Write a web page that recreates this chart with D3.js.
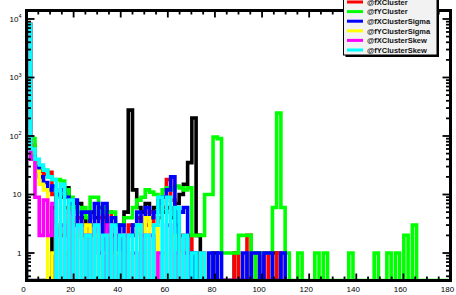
<!DOCTYPE html>
<html>
<head>
<meta charset="utf-8">
<script src="https://cdn.jsdelivr.net/npm/d3@7"></script>
<style>
  html, body { margin: 0; padding: 0; background: #fff; }
  svg { display: block; font-family: "Liberation Sans", Arial, sans-serif; }
  .hist { fill: none; stroke-linejoin: miter; stroke-linecap: butt; }
  .lbl { font-size: 8px; fill: #000; }
  .leg text { font-size: 7.5px; font-weight: bold; fill: #111; }
</style>
</head>
<body>
<div id="chart"></div>
<script>
// histogram: 100 bins of width 1.8 between 0 and 180
var binWidth = 1.8;

var blackCounts = [0,0,0,0,0,0,6,10,9,13,5,7,7,4,3,5,4,6,4,3,3,3,3,5,277,12,6,5,7,5,6,8,5,6,4,7,10,15,35,203,2,0,0,0,1,0,0,0,0,1,0,0,0,0,1,0,0,0,1];
var xClusterCounts = [8000,70,30,25,22,24,10,3,2,6,5,3,4,2,3,2,3,4,2,5,2,1,2,1,3,2,4,2,3,5,3,4,6,18,8,3,2,1,2,0,0,1,0,0,0,0,0,0,0,1,0,0,2,0,0,0,1,0,0,1];
var yClusterCounts = [8000,90,35,28,26,20,18,18,17,12,9,6,5,6,4,9,9,5,6,5,5,3,3,4,4,6,8,9,12,11,10,9,12,13,12,14,13,12,13,2,2,2,10,10,96,90,1,1,1,1,2,2,2,0,1,1,1,1,6,247,6,1,0,0,1,0,0,0,1,0,1,0,0,0,0,0,1,0,0,0,0,0,1,0,0,1,0,1,0,2,0,3,0,0,0,0,0,0,0,0];
var xSigmaCounts = [8000,45,30,20,16,12,14,10,12,9,7,8,3,5,5,3,7,0,7,0,4,0,3,0,2,3,5,0,6,4,5,7,9,12,20,0,5,6,0,1,0,0,0,1,0,1,0,0,0,0,0,1,0,1,1,0,1,1,0,0,1];
var ySigmaCounts = [8000,40,25,15,12,0,1,3,0,1,4,0,2,0,3,0,2,0,1,2,0,1,0,2,0,1,3,0,4,0,3,0,1,0,2,0,1];
var xSkewCounts = [8000,40,9,2,8,2,7,0,3,0,5,0,3,0,2,0,3,1,0,3,0,2,0,2,0,1,0,2,0,2,0,1,0,3,0,1,0,1];
var ySkewCounts = [8000,60,40,32,26,20,18,0,15,0,8,0,3,0,2,0,3,0,2,0,3,0,2,0,2,0,3,0,2,0,3,9,0,9,0,6,0,2,0,1,0,1];

var seriesNames = ["@fXCluster","@fYCluster","@fXClusterSigma","@fYClusterSigma","@fXClusterSkew","@fYClusterSkew"];
var seriesColors = ["#ff0000","#00ff00","#0000ff","#ffff00","#ff00ff","#00ffff"];
var seriesCounts = [xClusterCounts, yClusterCounts, xSigmaCounts, ySigmaCounts, xSkewCounts, ySkewCounts];

var xTicks = [0,20,40,60,80,100,120,140,160,180];
var yTicks = [1,10,100,1000,10000];

var width = 456, height = 295;
var L = 26.5, R = 450.5, T = 10.5, B = 280.5;

var svg = d3.select("#chart").append("svg")
  .attr("width", width).attr("height", height);

var x = d3.scaleLinear().domain([0, 180]).range([L, R]);
var y = d3.scaleLog().domain([Math.pow(10, -0.47), Math.pow(10, 4.145)]).range([B, T]);

svg.append("defs").append("clipPath").attr("id", "frame")
  .append("rect").attr("x", L).attr("y", T).attr("width", R - L).attr("height", B - T);

// ROOT style step line, zero bins drop to the bottom of the frame
function histPath(counts) {
  var pts = [[x(0), B]];
  counts.forEach(function(c, i) {
    var yy = c > 0 ? y(c) : B;
    pts.push([x(i * binWidth), yy]);
    pts.push([x((i + 1) * binWidth), yy]);
  });
  pts.push([x(counts.length * binWidth), B]);
  return d3.line()(pts);
}

var g = svg.append("g").attr("clip-path", "url(#frame)");

g.append("path").attr("class", "hist")
  .attr("d", histPath(blackCounts))
  .attr("stroke", "#000").attr("stroke-width", 3.6);

seriesCounts.forEach(function(counts, i) {
  g.append("path").attr("class", "hist")
    .attr("d", histPath(counts))
    .attr("stroke", seriesColors[i]).attr("stroke-width", 3.6);
});

// frame
svg.append("rect").attr("x", L).attr("y", T).attr("width", R - L).attr("height", B - T)
  .attr("fill", "none").attr("stroke", "#000").attr("stroke-width", 3);

// x ticks (bottom and top)
var xMinor = d3.range(0, 181, 5);
var axes = svg.append("g").attr("stroke", "#000").attr("stroke-width", 1.8);
xMinor.forEach(function(v) {
  var major = v % 20 === 0;
  var len = major ? 7 : 4;
  axes.append("line").attr("x1", x(v)).attr("x2", x(v)).attr("y1", B).attr("y2", B - len);
  axes.append("line").attr("x1", x(v)).attr("x2", x(v)).attr("y1", T).attr("y2", T + len);
});

// y ticks (left and right)
var yMinor = [];
for (var e = -1; e <= 4; e++) {
  for (var m = 1; m <= 9; m++) {
    var v = m * Math.pow(10, e);
    if (v >= y.domain()[0] && v <= y.domain()[1]) yMinor.push(v);
  }
}
yMinor.forEach(function(v) {
  var major = yTicks.indexOf(v) >= 0;
  var len = major ? 8 : 4.5;
  axes.append("line").attr("x1", L).attr("x2", L + len).attr("y1", y(v)).attr("y2", y(v));
  axes.append("line").attr("x1", R).attr("x2", R - len).attr("y1", y(v)).attr("y2", y(v));
});

// labels
svg.selectAll(".xl").data(xTicks).enter().append("text")
  .attr("class", "lbl")
  .attr("x", function(d) { return x(d) - 3; })
  .attr("y", 291.5)
  .attr("text-anchor", "middle")
  .text(function(d) { return d; });

yTicks.forEach(function(v) {
  var t = svg.append("text").attr("class", "lbl")
    .attr("x", 21.5).attr("y", y(v) + 3).attr("text-anchor", "end");
  var p = Math.round(Math.log10(v));
  if (p <= 1) {
    t.text(v);
  } else {
    t.append("tspan").text("10");
    t.append("tspan").attr("dy", -3.5).attr("font-size", "5.5px").text(p);
  }
});

// legend (top cut off by the window)
var leg = svg.append("g").attr("class", "leg");
leg.append("rect").attr("x", 345.5).attr("y", -40).attr("width", 93.5).attr("height", 97)
  .attr("fill", "#000");
leg.append("rect").attr("x", 343.5).attr("y", -42).attr("width", 93.5).attr("height", 97)
  .attr("fill", "#f2f2f2").attr("stroke", "#000").attr("stroke-width", 1);
seriesNames.forEach(function(name, i) {
  var cy = 2 + i * 9.6;
  leg.append("line").attr("x1", 347).attr("x2", 363).attr("y1", cy).attr("y2", cy)
    .attr("stroke", seriesColors[i]).attr("stroke-width", 3);
  leg.append("text").attr("x", 367).attr("y", cy + 2.7).text(name);
});
</script>
</body>
</html>
